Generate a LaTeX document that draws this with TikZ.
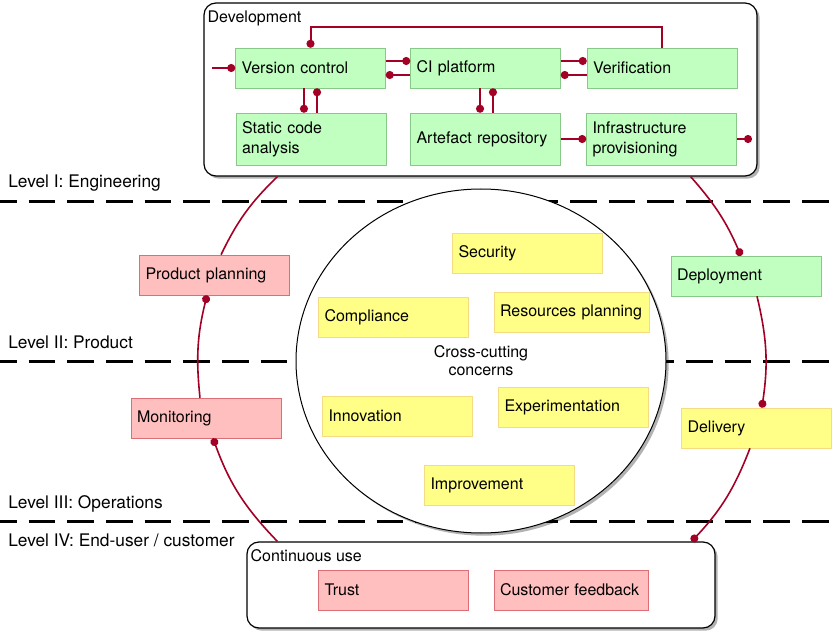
\documentclass[tikz,border=0pt]{standalone}
\usepackage{fontspec}
\setmainfont{TeX Gyre Heros}
\usetikzlibrary{arrows.meta,shapes.geometric,shadows}
\definecolor{linkred}{HTML}{A20025}
\definecolor{grfill}{HTML}{C0FFC0}
\definecolor{grline}{HTML}{88C888}
\definecolor{rdfill}{HTML}{FFBFBF}
\definecolor{rdline}{HTML}{DC6E78}
\definecolor{ylfill}{HTML}{FFFF88}
\definecolor{ylline}{HTML}{F5DC82}

\begin{document}
\begin{tikzpicture}[%
  x=0.75pt, y=-0.75pt,
  >={Circle[length=6pt]},
  every node/.style={font=\fontsize{12}{15}\selectfont},
  box/.style={draw, minimum height=30pt, text width=103.5pt, align=left, inner xsep=4.5pt, inner ysep=0pt},
  tall/.style={minimum height=39pt},
  gbox/.style={box, fill=grfill, draw=grline},
  rbox/.style={box, fill=rdfill, draw=rdline},
  ybox/.style={box, fill=ylfill, draw=ylline},
  shade/.style={drop shadow={shadow xshift=2pt, shadow yshift=-2pt, fill=black, opacity=0.3}},
  group/.style={draw, fill=white, rounded corners=9pt, line width=0.9pt, shade},
  grouptitle/.style={anchor=north west, inner xsep=3pt, inner ysep=6pt},
  level/.style={line width=2.25pt, dash pattern=on 20pt off 9pt, dash phase=7.5pt},
  lvltext/.style={anchor=base west, inner sep=0pt, font=\fontsize{13}{15}\selectfont},
  link/.style={draw=linkred, line width=1.5pt},
  cycle/.style={draw=linkred, line width=1.2pt}]
\useasboundingbox (0,0) rectangle (833,635);

\draw[level] (0,202) -- (833,202);
\draw[level] (0,361) -- (833,361);
\draw[level] (0,521) -- (833,521);
\node[lvltext] (lvl1) at (8,188) {Level I: Engineering};
\node[lvltext] (lvl2) at (8,348) {Level II: Product};
\node[lvltext] (lvl3) at (8,508) {Level III: Operations};
\node[lvltext] (lvl4) at (8,546) {Level IV: End-user / customer};

\node[group, minimum width=414.75pt, minimum height=129.75pt,
	label={[grouptitle]north west:Development}] (dev) at (480.5,89.5) {};
\node[gbox] (vc) at (310.5,68) {Version control};
\node[gbox] (ci) at (485.5,68) {CI platform};
\node[gbox] (ver) at (662,68) {Verification};
\node[gbox, tall] (sca) at (311,139) {Static code\\analysis};
\node[gbox, tall] (art) at (485.5,139) {Artefact repository};
\node[gbox, tall] (inf) at (661.5,139) {Infrastructure\\provisioning};
\coordinate (vcin) at (212,68);
\coordinate (infout) at (752,139);

\draw[link, ->] (vcin) -- (vc);
\draw[link, ->] (ver.north) -- ++(0,-21) -| (vc.north);
\draw[link, ->] ([yshift=5.25pt]vc.east) -- ([yshift=5.25pt]ci.west);
\draw[link, ->] ([yshift=-5.25pt]ci.west) -- ([yshift=-5.25pt]vc.east);
\draw[link, ->] ([yshift=5.25pt]ci.east) -- ([yshift=5.25pt]ver.west);
\draw[link, ->] ([yshift=-5.25pt]ver.west) -- ([yshift=-5.25pt]ci.east);
\draw[link, ->] ([xshift=-4.9pt]vc.south) -- ([xshift=-4.9pt]vc.south |- sca.north);
\draw[link, ->] ([xshift=4.9pt]vc.south |- sca.north) -- ([xshift=4.9pt]vc.south);
\draw[link, ->] ([xshift=-4.1pt]ci.south) -- ([xshift=-4.1pt]ci.south |- art.north);
\draw[link, ->] ([xshift=5.6pt]ci.south |- art.north) -- ([xshift=5.6pt]ci.south);
\draw[link, ->] (art) -- (inf);
\draw[link, ->] (inf.east) -- (infout);

\node[ellipse, draw, fill=white, line width=0.75pt, shade, minimum width=277.5pt, minimum height=258pt,
	align=center, inner sep=0pt, font=\fontsize{12}{13.5}\selectfont] (cc) at (481,361) {Cross-cutting\\concerns};
\node[ybox] (sec) at (527.5,253) {Security};
\node[ybox] (com) at (393.5,317) {Compliance};
\node[ybox, text width=107.25pt] (res) at (571.5,312) {Resources planning};
\node[ybox] (inn) at (397.5,416) {Innovation};
\node[ybox] (exp) at (573.5,407) {Experimentation};
\node[ybox] (imp) at (499.5,485) {Improvement};

\node[rbox] (pp) at (214.5,275) {Product planning};
\node[rbox] (mon) at (206,418) {Monitoring};
\node[gbox] (dep) at (746,276) {Deployment};
\node[ybox] (del) at (756.5,428) {Delivery};

\node[group, minimum width=351pt, minimum height=64.5pt,
	label={[grouptitle]north west:Continuous use}] (cu) at (481,585) {};
\node[rbox] (tr) at (393.5,590) {Trust};
\node[rbox, text width=106.5pt] (cf) at (571,590) {Customer feedback};

\draw[cycle] ([xshift=55.5pt]dev.south west) to[bend right=10] ([xshift=4.9pt]pp.north);
\draw[cycle, <-] ([xshift=-5.6pt]pp.south) to[bend right=10] ([xshift=-4.5pt]mon.north);
\draw[cycle, <-] ([xshift=5.25pt]mon.south) to[bend right=12] ([xshift=23.25pt]cu.north west);
\draw[cycle, ->] ([xshift=-50.25pt]dev.south east) to[bend left=9] ([xshift=-3.75pt]dep.north);
\draw[cycle, ->] ([xshift=8.25pt]dep.south) to[bend left=11] ([xshift=4pt]del.north);
\draw[cycle, ->] ([xshift=-4.9pt]del.south) to[bend left=11] ([xshift=-18pt]cu.north east);
\end{tikzpicture}
\end{document}
